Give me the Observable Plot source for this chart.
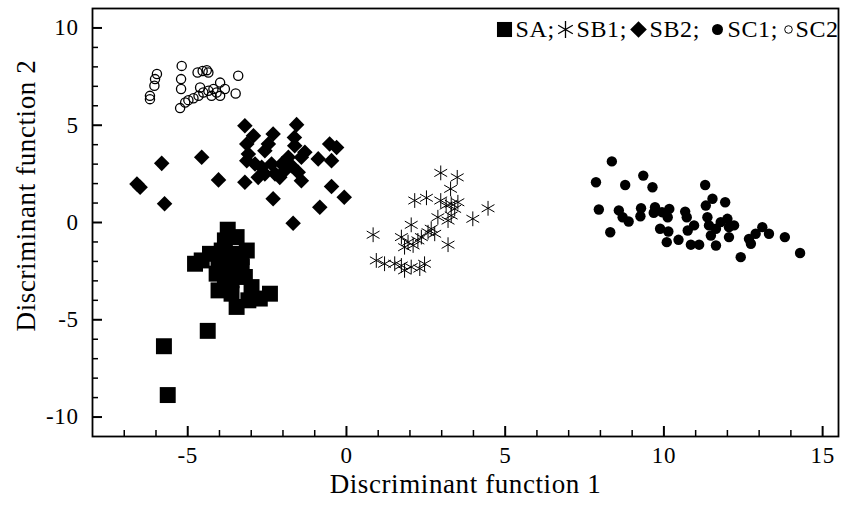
<!DOCTYPE html>
<html><head><meta charset="utf-8">
<script src="https://cdn.jsdelivr.net/npm/d3@7"></script>
<script src="https://cdn.jsdelivr.net/npm/@observablehq/plot@0.6"></script>
<style>
body{margin:0;background:#fff}
svg{font-family:"Liberation Serif","Times New Roman",serif}
</style>
</head><body><div id="chart"></div><script>
// SA (filled squares)
const saX = [-3.74,-3.83,-3.46,-4.30,-4.77,-4.03,-3.62,-3.30,-3.72,-3.30,-4.09,-4.03,-3.62,-3.20,-2.99,-3.62,-3.46,-2.41,-2.73,-3.09,-4.56,-3.14,-3.83,-3.93,-4.37,-5.75,-5.63];
const saY = [-0.37,-0.92,-0.75,-1.61,-2.12,-1.95,-1.61,-1.78,-2.29,-2.29,-2.63,-3.49,-2.97,-2.80,-3.32,-3.66,-4.34,-3.66,-3.91,-4.00,-1.95,-1.44,-2.80,-1.44,-5.57,-6.36,-8.87];
// SB1 (asterisks)
const sb1X = [0.84,2.97,3.49,3.28,2.15,2.52,2.97,3.30,3.51,3.41,3.14,4.46,3.98,3.30,3.20,2.04,2.67,2.57,2.78,1.73,1.94,2.10,2.25,2.36,3.20,0.94,1.20,1.52,1.73,1.83,2.04,2.31,2.46,1.83,2.88];
const sb1Y = [-0.63,2.55,2.32,1.73,1.13,1.27,1.13,0.96,1.04,0.70,0.87,0.73,0.19,0.36,0.10,-0.12,-0.32,-0.50,-0.58,-0.75,-1.01,-1.18,-0.92,-0.75,-1.14,-1.95,-2.12,-2.12,-2.21,-2.46,-2.29,-2.37,-2.12,-1.27,0.27];
// SB2 (filled diamonds)
const sb2X = [-3.20,-1.57,-2.93,-2.31,-1.64,-3.14,-2.46,-1.63,-0.53,-0.31,-4.56,-5.82,-3.14,-1.31,-0.89,-0.47,-6.60,-6.50,-4.03,-3.20,-2.10,-1.42,-0.47,-0.07,-2.31,-5.73,-0.84,-1.68,-2.88,-2.67,-2.36,-2.04,-1.83,-2.57,-2.25,-1.94,-1.73,-1.42,-3.09,-2.57,-2.78,-1.52];
const sb2Y = [4.97,5.03,4.46,4.55,4.37,4.04,4.04,3.95,4.04,3.86,3.35,3.04,3.18,3.61,3.27,3.18,1.98,1.81,2.19,2.07,2.32,2.15,1.85,1.30,1.22,0.96,0.78,-0.04,3.01,2.84,3.01,3.01,3.35,2.50,2.50,2.67,2.92,3.35,3.52,3.69,2.32,2.58];
// SC1 (filled circles)
const sc1X = [8.36,7.86,8.78,9.35,9.64,11.30,7.95,8.58,8.70,8.89,9.28,9.26,9.72,9.68,9.94,10.17,10.12,8.31,9.88,10.14,10.09,10.46,10.67,10.72,10.85,11.11,10.75,10.95,11.37,11.53,11.32,11.93,11.42,11.64,11.48,11.64,11.79,12.00,12.05,12.21,12.05,12.42,12.68,12.74,12.89,13.10,13.31,13.81,14.29];
const sc1Y = [3.14,2.07,1.93,2.41,1.81,1.93,0.67,0.62,0.27,0.05,0.73,0.32,0.79,0.50,0.53,0.70,0.27,-0.50,-0.32,-0.46,-1.01,-0.89,0.56,0.27,-1.14,-1.14,-0.41,-0.15,0.27,1.22,0.87,1.04,-0.15,-0.32,-0.67,-1.18,0.02,0.19,-0.24,-0.15,-0.75,-1.78,-0.84,-1.09,-0.58,-0.24,-0.58,-0.75,-1.57];
// SC2 (open circles)
const sc2X = [-5.97,-6.03,-6.05,-6.19,-6.19,-5.19,-5.21,-5.21,-4.69,-4.53,-4.40,-4.35,-3.41,-4.61,-3.98,-5.24,-5.08,-4.98,-4.82,-4.66,-4.51,-4.35,-4.19,-4.09,-3.98,-3.83,-3.49,-4.25];
const sc2Y = [7.63,7.37,7.03,6.51,6.34,8.05,7.37,6.86,7.71,7.79,7.83,7.71,7.54,6.94,7.19,5.88,6.17,6.29,6.39,6.51,6.68,6.77,6.86,6.68,6.51,6.86,6.63,6.51];

const xTicks = [-5, 0, 5, 10, 15];
const yTicks = [-10, -5, 0, 5, 10];
const xMinor = [-7,-6,-4,-3,-2,-1,1,2,3,4,6,7,8,9,11,12,13,14];
const yMinor = [-9,-8,-7,-6,-4,-3,-2,-1,1,2,3,4,6,7,8,9];
const xDomain = [-8, 15.5];
const yDomain = [-11, 11];
const xLabel = "Discriminant function 1";
const yLabel = "Discriminant function 2";
const legendLabels = ["SA;", "SB1;", "SB2;", "SC1;", "SC2"];

// layout constants (pixels)
const W = 851, H = 506, mL = 92, mR = 13, mT = 8, mB = 70;
const plotW = W - mL - mR, plotH = H - mT - mB;
const legendSymbolDx = [-334, -273, -200, -121, -50];
const legendLabelDx = [-323, -262, -189, -111, -43];
const majorLen = 10, minorLen = 6;
const yPerPx = (yDomain[1] - yDomain[0]) / plotH;
const xPerPx = (xDomain[1] - xDomain[0]) / plotW;

const pts = (xs, ys) => xs.map((x, i) => ({x, y: ys[i]}));
const SA = pts(saX, saY), SB1 = pts(sb1X, sb1Y), SB2 = pts(sb2X, sb2Y), SC1 = pts(sc1X, sc1Y), SC2 = pts(sc2X, sc2Y);

const legendDot = (i, opts) => Plot.dot([legendLabels[i]], {frameAnchor: "top-right", dx: legendSymbolDx[i], dy: 21, ...opts});

const chart = Plot.plot({
  width: W,
  height: H,
  marginLeft: mL,
  marginRight: mR,
  marginTop: mT,
  marginBottom: mB,
  style: {fontFamily: '"Liberation Serif","Times New Roman",serif', fontSize: "23px", color: "black", background: "white", letterSpacing: "0.6px"},
  x: {domain: xDomain},
  y: {domain: yDomain},
  marks: [
    Plot.frame({stroke: "black", strokeWidth: 1.8}),
    Plot.axisX({ticks: xTicks, tickSize: 0, tickPadding: 10, label: null, fontSize: 23, tickFormat: d => String(d)}),
    Plot.axisY({ticks: yTicks, tickSize: 0, tickPadding: 14, label: null, fontSize: 23, tickFormat: d => String(d)}),
    Plot.ruleX(xTicks, {x: d => d, y1: yDomain[0], y2: yDomain[0] + majorLen * yPerPx, stroke: "black", strokeWidth: 2}),
    Plot.ruleX(xMinor, {x: d => d, y1: yDomain[0], y2: yDomain[0] + minorLen * yPerPx, stroke: "black", strokeWidth: 1.5}),
    Plot.ruleY(yTicks, {y: d => d, x1: xDomain[0], x2: xDomain[0] + majorLen * xPerPx, stroke: "black", strokeWidth: 2}),
    Plot.ruleY(yMinor, {y: d => d, x1: xDomain[0], x2: xDomain[0] + minorLen * xPerPx, stroke: "black", strokeWidth: 1.5}),
    Plot.dot(SC2, {x: "x", y: "y", symbol: "circle", r: 4.6, stroke: "black", strokeWidth: 1.3, fill: "none"}),
    Plot.dot(SB2, {x: "x", y: "y", symbol: "diamond2", r: 7, fill: "black"}),
    Plot.dot(SA, {x: "x", y: "y", symbol: "square", r: 9, fill: "black"}),
    Plot.dot(SB1, {x: "x", y: "y", symbol: "asterisk", r: 7, stroke: "black", strokeWidth: 1}),
    Plot.dot(SC1, {x: "x", y: "y", symbol: "circle", r: 5.2, fill: "black"}),
    // legend
    legendDot(0, {symbol: "square", r: 8.5, fill: "black"}),
    legendDot(1, {symbol: "asterisk", r: 8, stroke: "black", strokeWidth: 1.3}),
    legendDot(2, {symbol: "diamond2", r: 7.5, fill: "black"}),
    legendDot(3, {symbol: "circle", r: 5.5, fill: "black"}),
    legendDot(4, {symbol: "circle", r: 3.8, stroke: "black", strokeWidth: 1, fill: "none"}),
    ...legendLabels.map((t, i) => Plot.text([t], {frameAnchor: "top-right", textAnchor: "start", lineAnchor: "middle", dx: legendLabelDx[i], dy: 21, fontSize: 24, fill: "black"})),
    Plot.text([xLabel], {frameAnchor: "bottom", lineAnchor: "middle", dy: 48, fontSize: 27, fill: "black"}),
    Plot.text([yLabel], {frameAnchor: "left", rotate: -90, textAnchor: "middle", lineAnchor: "middle", dx: -66, dy: -27, fontSize: 27, fill: "black"})
  ]
});
document.getElementById("chart").append(chart);
</script></body></html>
